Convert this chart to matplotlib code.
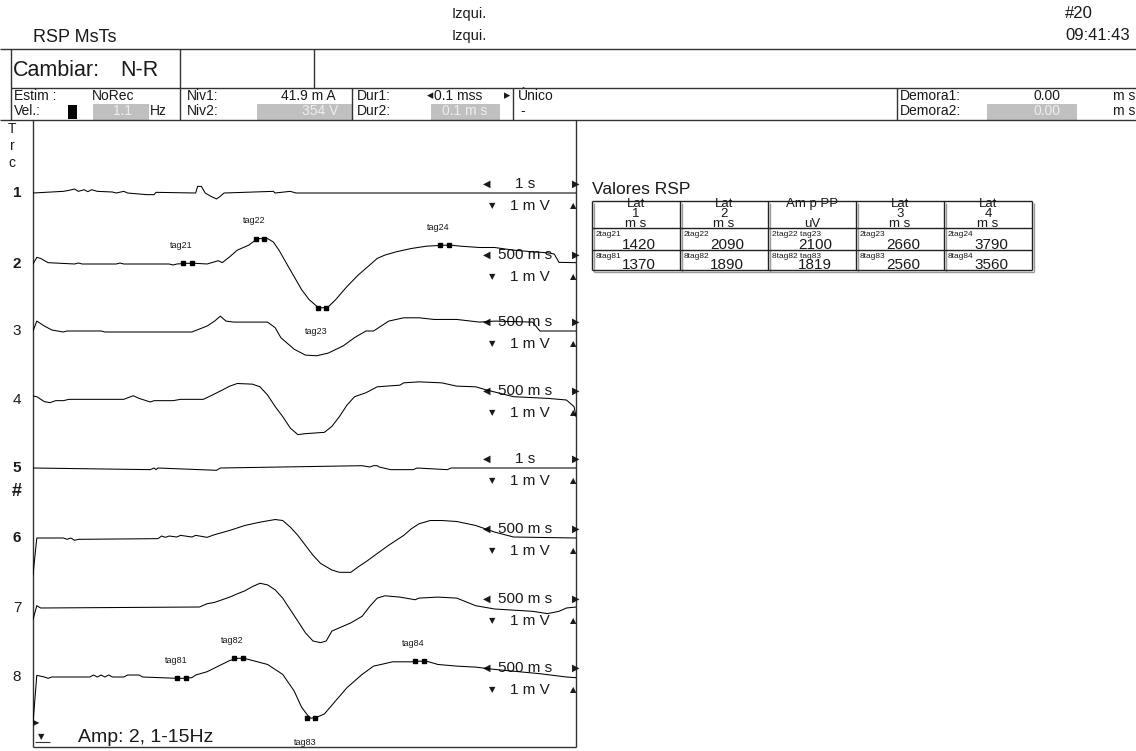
import numpy as np
import matplotlib
matplotlib.use('Agg')
import matplotlib.pyplot as plt
from matplotlib.patches import Rectangle

plt.rcParams['font.family'] = ['Liberation Sans', 'DejaVu Sans']
SYM = ['DejaVu Sans']

# --- recorded traces: time (ms) and amplitude (mV) ---
# traces 1 and 5 use a 1 s/div sweep (0-10 s), the rest 500 ms/div (0-5 s)
t1 = [0, 558, 662, 766, 836, 941, 1010, 1080, 1185, 1463, 1533, 1672, 1742, 2090, 2230, 2265,
      2996, 3031, 3101, 3171, 3275, 3380, 3449, 3519, 4425, 4460, 4738, 4843, 10000]
v1 = [0, 0.05, 0.08, 0.12, 0.05, 0.10, 0.04, 0.10, 0.05, 0.03, 0.0, 0.05, 0.0, -0.05, -0.05, 0.02,
      0.0, 0.20, 0.20, 0.0, -0.10, -0.18, -0.10, 0.0, 0.05, 0.0, 0.05, 0.0, 0.0]

t2 = [0, 35, 70, 139, 383, 418, 453, 766, 801, 836, 1254, 1289, 1324, 1498, 1603, 1707, 1742,
      1812, 1881, 1986, 2056, 2160, 2212, 2265, 2334, 2404, 2474, 2543, 2613, 2718, 2787, 2892,
      2996, 3101, 3170, 3240, 3345, 3484, 3623, 3850, 3937, 4111, 4250, 4425, 4599, 4738, 4800,
      4843, 5000]
v2 = [0.0, 0.20, 0.17, 0.04, 0.0, 0.03, 0.0, 0.0, 0.03, 0.0, 0.0, -0.03, 0.0, 0.02, 0.0, 0.10, 0.04,
      0.22, 0.42, 0.57, 0.74, 0.77, 0.67, 0.42, 0.02, -0.38, -0.78, -1.08, -1.28, -1.30, -1.08, -0.68,
      -0.33, -0.03, 0.17, 0.27, 0.37, 0.47, 0.54, 0.57, 0.54, 0.50, 0.50, 0.42, 0.37, 0.34, 0.30,
      0.05, 0.04]

t3 = [0, 35, 105, 174, 279, 314, 627, 662, 836, 871, 1463, 1603, 1672, 1725, 1777, 1847, 2160,
      2230, 2282, 2299, 2404, 2508, 2613, 2718, 2857, 2961, 3066, 3136, 3205, 3275, 3414, 3554,
      3693, 3902, 4111, 4250, 4600, 4668, 5000]
v3 = [0.0, 0.30, 0.15, 0.03, -0.03, 0.0, 0.0, -0.03, -0.03, -0.03, -0.03, 0.15, 0.30, 0.45, 0.30, 0.27, 0.27,
      0.10, -0.20, -0.25, -0.55, -0.73, -0.75, -0.67, -0.45, -0.20, 0.0, 0.0, 0.15, 0.30, 0.40, 0.40,
      0.35, 0.35, 0.27, 0.30, 0.27, 0.0, 0.0]

t4 = [0, 35, 105, 157, 209, 279, 331, 836, 923, 976, 1080, 1115, 1289, 1359, 1568, 1620, 1742,
      1812, 1881, 2021, 2090, 2160, 2230, 2299, 2369, 2439, 2508, 2683, 2752, 2822, 2892, 2961,
      3066, 3170, 3379, 3414, 3554, 3763, 3902, 4076, 4181, 4425, 4738, 4912, 4982, 5000]
v4 = [0.12, 0.10, -0.05, -0.08, -0.02, -0.02, 0.02, 0.02, 0.13, 0.05, -0.06, -0.02, -0.02, 0.02, 0.02, 0.10, 0.30,
      0.42, 0.50, 0.48, 0.40, 0.15, -0.20, -0.50, -0.85, -1.05, -1.02, -0.98, -0.80, -0.50, -0.15, 0.10,
      0.22, 0.40, 0.45, 0.52, 0.55, 0.52, 0.42, 0.40, 0.30, 0.10, 0.05, 0.0, -0.20, -0.50]

t5 = [0, 2160, 2230, 2265, 2300, 3380, 3449, 6062, 6202, 6271, 6341, 6376, 6585, 7003, 7073,
      7630, 7700, 10000]
v5 = [0, -0.05, 0.0, -0.05, 0.0, -0.07, 0.0, 0.07, 0.03, 0.07, 0.07, 0.03, -0.05, -0.05, 0.0,
      -0.05, 0.0, 0.0]

t6 = [0, 35, 279, 314, 348, 383, 418, 1150, 1185, 1219, 1254, 1324, 1359, 1463, 1498, 1603, 1672,
      1812, 1951, 2090, 2230, 2299, 2369, 2439, 2508, 2578, 2648, 2752, 2822, 2927, 2996, 3066,
      3170, 3275, 3414, 3484, 3554, 3658, 3763, 3902, 4076, 4250, 4425, 5000]
v6 = [-1.12, 0.0, 0.0, -0.04, 0.0, -0.07, -0.04, -0.02, 0.06, 0.02, 0.06, 0.03, 0.08, 0.03, 0.08, 0.02, 0.10,
      0.23, 0.38, 0.48, 0.56, 0.53, 0.33, 0.08, -0.22, -0.52, -0.77, -0.97, -1.04, -1.04, -0.87, -0.72,
      -0.47, -0.22, 0.08, 0.28, 0.43, 0.53, 0.53, 0.50, 0.38, 0.18, 0.03, 0.0]

t7 = [0, 35, 70, 1533, 1603, 1672, 1742, 1812, 1881, 1951, 2021, 2090, 2160, 2230, 2299, 2369,
      2439, 2508, 2578, 2648, 2700, 2752, 2822, 2927, 3031, 3101, 3170, 3240, 3379, 3519, 3554,
      3728, 3902, 4076, 4250, 4599, 4738, 4843, 4912, 5000]
v7 = [-0.35, 0.07, 0.0, 0.03, 0.13, 0.17, 0.25, 0.33, 0.43, 0.52, 0.65, 0.75, 0.70, 0.55, 0.30, -0.05,
      -0.40, -0.75, -1.00, -1.05, -1.00, -0.70, -0.60, -0.45, -0.25, 0.05, 0.30, 0.37, 0.33, 0.25, 0.30,
      0.33, 0.30, 0.07, -0.03, -0.10, -0.17, -0.10, 0.0, 0.03]

t8 = [0, 35, 105, 139, 174, 523, 557, 592, 627, 662, 697, 732, 836, 871, 976, 1010, 1324, 1463,
      1498, 1603, 1707, 1812, 1951, 2021, 2160, 2299, 2404, 2474, 2543, 2613, 2683, 2787, 2892,
      3031, 3136, 3205, 3310, 3484, 3623, 3728, 3902, 4076, 4250, 4668, 4912, 5000]
v8 = [-1.40, 0.05, 0.0, -0.04, 0.0, 0.0, 0.06, 0.0, 0.06, 0.0, 0.06, 0.0, 0.0, 0.06, 0.06, 0.0, -0.04, -0.02,
      0.06, 0.16, 0.33, 0.50, 0.56, 0.50, 0.38, 0.08, -0.42, -0.92, -1.22, -1.22, -1.12, -0.72, -0.32,
      0.08, 0.33, 0.38, 0.46, 0.46, 0.48, 0.38, 0.33, 0.30, 0.23, 0.10, 0.0, -0.02]

# --- tag markers (latency ms, amplitude mV) ---
tag_names_2 = ['tag21', 'tag22', 'tag23', 'tag24']
tag_lat_2 = [1420, 2090, 2660, 3790]
tag_amp_2 = [0.02, 0.77, -1.33, 0.57]
tag_names_8 = ['tag81', 'tag82', 'tag83', 'tag84']
tag_lat_8 = [1370, 1890, 2560, 3560]
tag_amp_8 = [-0.04, 0.569, -1.25, 0.48]

trace_ids = ['1', '2', '3', '4', '5', '6', '7', '8']
sweep_labels = ['1 s', '500 m s', '500 m s', '500 m s', '1 s', '500 m s', '500 m s', '500 m s']
gain_labels = ['1 m V'] * 8
bold_ids = ['1', '2', '5', '6']

traces = [(t1, v1), (t2, v2), (t3, v3), (t4, v4), (t5, v5), (t6, v6), (t7, v7), (t8, v8)]

W, H = 1136, 751
fig = plt.figure(figsize=(W / 100, H / 100), dpi=100)
ax = fig.add_axes([0, 0, 1, 1])
ax.set_xlim(0, W)
ax.set_ylim(H, 0)
ax.axis('off')

ink = '#1a1a1a'


def txt(x, y, s, size=10, ha='left', va='center', **kw):
    ax.text(x, y, s, fontsize=size, ha=ha, va=va, color=kw.pop('color', ink), **kw)


def hline(y, x0, x1, lw=1.0, color='#333333'):
    ax.plot([x0, x1], [y, y], color=color, lw=lw, solid_capstyle='butt')


def vline(x, y0, y1, lw=1.0, color='#333333'):
    ax.plot([x, x], [y0, y1], color=color, lw=lw, solid_capstyle='butt')


def gray_box(x, y, w, h):
    ax.add_patch(Rectangle((x, y), w, h, facecolor='#c0c0c0', edgecolor='none'))


# --- header ---
txt(33, 37, 'RSP MsTs', 13)
txt(452, 14, 'Izqui.', 10.5)
txt(452, 36, 'Izqui.', 10.5)
txt(1065, 14, '#20', 12)
txt(1065, 36, '09:41:43', 12)
hline(49, 0, W)

txt(13, 70, 'Cambiar:', 15.5)
txt(120, 70, 'N-R', 15.5)
vline(11, 49, 120)
vline(180, 49, 120)
vline(314, 49, 88)
hline(88, 11, W)
hline(120, 0, W)

# --- stimulus settings row ---
r1, r2 = 96, 111
txt(14, r1, 'Estim :')
txt(92, r1, 'NoRec')
txt(14, r2, 'Vel.:')
ax.add_patch(Rectangle((68, 105), 9, 14, facecolor='black'))
gray_box(93, 104, 56, 16)
txt(123, r2, '1.1', ha='center', color='#eeeeee')
txt(150, r2, 'Hz')

txt(187, r1, 'Niv1:')
txt(336, r1, '41.9 m A', ha='right')
txt(187, r2, 'Niv2:')
gray_box(257, 104, 95, 16)
txt(338, r2, '354 V', ha='right', color='#eeeeee')
vline(352, 88, 120)

txt(357, r1, 'Dur1:')
txt(427, r1, '◂', 9, family=SYM)
txt(434, r1, '0.1 mss')
txt(510, r1, '▸', 9, ha='right', family=SYM)
txt(357, r2, 'Dur2:')
gray_box(431, 104, 69, 16)
txt(465, r2, '0.1 m s', ha='center', color='#eeeeee')
vline(513, 88, 120)
txt(518, r1, 'Único')
txt(520, r2, '-')

vline(897, 88, 120)
txt(900, r1, 'Demora1:')
txt(1061, r1, '0.00', ha='right')
txt(1113, r1, 'm s')
txt(900, r2, 'Demora2:')
gray_box(987, 104, 90, 16)
txt(1061, r2, '0.00', ha='right', color='#eeeeee')
txt(1113, r2, 'm s')

# --- trace panel ---
pl, pr, pt, pb = 33, 576, 120, 747
vline(pl, pt, pb)
vline(pr, pt, pb)
hline(pb, pl, pr)
for i, ch in enumerate('Trc'):
    txt(12, 129 + 17 * i, ch, 10, ha='center')

px_per_mv = 33.0
baselines = [193, 264, 331, 400, 468, 538, 608, 677]
rect = [pl / W, 1 - pb / H, (pr - pl) / W, (pb - pt) / H]
ax500 = fig.add_axes(rect)
ax1s = fig.add_axes(rect)
for a, span in ((ax500, 5000), (ax1s, 10000)):
    a.set_xlim(0, span)
    a.set_ylim(-(pb - pt) / px_per_mv, 0)
    a.axis('off')
    a.patch.set_alpha(0)

tags = {1: (tag_names_2, tag_lat_2, tag_amp_2), 7: (tag_names_8, tag_lat_8, tag_amp_8)}

for i, (t, v) in enumerate(traces):
    off = -(baselines[i] - pt) / px_per_mv
    a = ax1s if sweep_labels[i] == '1 s' else ax500
    t = np.asarray(t, float)
    v = np.asarray(v, float)
    if i in tags:
        names, lat, amp = tags[i]
        t = np.concatenate([t, lat])
        v = np.concatenate([v, amp])
        order = np.argsort(t)
        t, v = t[order], v[order]
        for name, tl, am in zip(names, lat, amp):
            a.plot([tl - 40, tl + 40], [am + off, am + off], 's', color='black', ms=2.6)
            below = am < -1
            a.annotate(name, (tl, am + off), xytext=(-6, -24 if below else 18),
                       textcoords='offset pixels', fontsize=6.5, ha='center', va='center',
                       color=ink)
    a.plot(t, v + off, color='black', lw=0.75)

    yb = baselines[i]
    txt(17, yb, trace_ids[i], 11, ha='center',
        fontweight='bold' if trace_ids[i] in bold_ids else 'normal')
    txt(487, yb - 9, '◀', 7, ha='center', family=SYM)
    txt(525, yb - 9, sweep_labels[i], 11, ha='center')
    txt(576, yb - 9, '▶', 7, ha='center', family=SYM)
    txt(492, yb + 13, '▼', 6, ha='center', family=SYM)
    txt(530, yb + 13, gain_labels[i], 11, ha='center')
    txt(573, yb + 13, '▲', 6, ha='center', family=SYM)

txt(17, 491, '#', 13, ha='center', fontweight='bold')
txt(33, 723, '▶', 6, ha='left', family=SYM)
txt(41, 737, '▼', 6, ha='center', family=SYM)
hline(742, 35, 50, lw=0.8)
txt(78, 737, 'Amp: 2, 1-15Hz', 14)

# --- results table ---
txt(592, 189, 'Valores RSP', 12.5)
col_x = [592, 680, 768, 856, 944, 1032]
row_y = [201, 228, 250, 270]
col_heads = ['Lat\n1\nm s', 'Lat\n2\nm s', 'Am p PP\n\nuV', 'Lat\n3\nm s', 'Lat\n4\nm s']


def row_cells(prefix, names, lat, amp):
    small = [prefix + names[0], prefix + names[1], prefix + names[1] + ' ' + names[2],
             prefix + names[2], prefix + names[3]]
    pp = int(round((amp[1] - amp[2]) * 1000))
    vals = [lat[0], lat[1], pp, lat[2], lat[3]]
    return small, vals


rows = [row_cells('2', tag_names_2, tag_lat_2, tag_amp_2),
        row_cells('8', tag_names_8, tag_lat_8, tag_amp_8)]

shadow = '#9a9a9a'
for x in col_x:
    vline(x + 2, row_y[0] + 2, row_y[-1] + 2, color=shadow)
hline(row_y[-1] + 2, col_x[0] + 2, col_x[-1] + 2, color=shadow)
for x in col_x:
    vline(x, row_y[0], row_y[-1], color='#222222')
for y in row_y:
    hline(y, col_x[0], col_x[-1], color='#222222')

for j, head in enumerate(col_heads):
    cx = (col_x[j] + col_x[j + 1]) / 2
    txt(cx, 214, head, 9.5, ha='center', linespacing=0.8)
for r, (small, vals) in enumerate(rows):
    y0, y1 = row_y[r + 1], row_y[r + 2]
    for j in range(5):
        txt(col_x[j] + 4, y0 + 6, small[j], 6)
        txt(col_x[j] + 47, y1 - 1, str(vals[j]), 11, ha='center', va='baseline')

fig.savefig('out.png', dpi=100)
